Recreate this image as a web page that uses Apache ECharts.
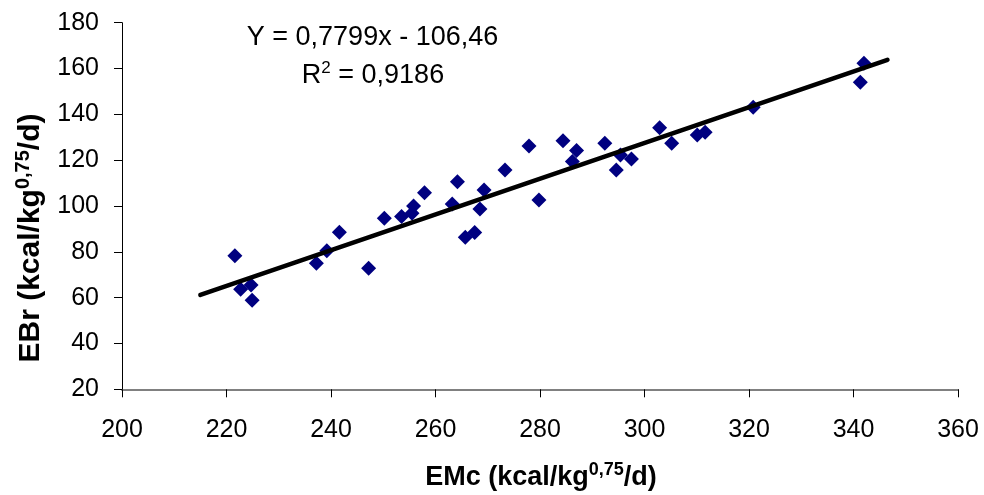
<!DOCTYPE html>
<html>
<head>
<meta charset="utf-8">
<script src="https://cdn.jsdelivr.net/npm/echarts@6/dist/echarts.min.js"></script>
<style>html,body{margin:0;padding:0;background:#fff}#c{width:984px;height:495px}</style>
</head>
<body>
<div id="c"></div>
<script>
var emcValues = [221.6, 222.7, 224.7, 224.9, 237.2, 239.2, 241.6, 247.2, 250.2, 253.5, 255.5, 255.8, 257.9, 263.2, 264.2, 265.7, 267.5, 268.5, 269.3, 273.3, 277.9, 279.8, 284.4, 287.0, 286.2, 292.4, 294.6, 295.4, 297.5, 302.9, 305.2, 310.1, 311.6, 320.8, 342.0, 341.3];
var ebrValues = [78.3, 63.7, 65.5, 58.9, 75.0, 80.5, 88.5, 72.8, 94.6, 95.4, 96.8, 100.0, 105.8, 100.9, 110.6, 86.4, 88.4, 98.7, 107.0, 115.7, 126.2, 102.6, 128.5, 124.2, 119.4, 127.4, 115.7, 122.3, 120.5, 134.2, 127.4, 131.0, 132.2, 143.1, 162.3, 154.0];
var trendX = [215, 346.5];
var trendY = [61.2, 163.8];
var xTicks = {min: 200, max: 360, interval: 20};
var yTicks = {min: 20, max: 180, interval: 20};
var equationText = 'Y = 0,7799x - 106,46';
var r2Text = '0,9186';

var FONT = "'Liberation Sans', Arial, sans-serif";
var points = emcValues.map(function (x, i) { return [x, ebrValues[i]]; });
var trend = trendX.map(function (x, i) { return [x, trendY[i]]; });

var chart = echarts.init(document.getElementById('c'), null, {renderer: 'canvas'});
chart.setOption({
  animation: false,
  backgroundColor: '#fff',
  grid: {left: 122, right: 26, top: 22.7, bottom: 105.7, containLabel: false},
  xAxis: {
    type: 'value', min: xTicks.min, max: xTicks.max, interval: xTicks.interval,
    splitLine: {show: false},
    axisLine: {show: true, onZero: false, lineStyle: {color: '#808080', width: 2}},
    axisTick: {show: true, inside: false, length: 8, lineStyle: {color: '#000', width: 1}},
    axisLabel: {color: '#000', fontFamily: FONT, fontSize: 25, margin: 28}
  },
  yAxis: {
    type: 'value', min: yTicks.min, max: yTicks.max, interval: yTicks.interval,
    splitLine: {show: false},
    axisLine: {show: true, onZero: false, lineStyle: {color: '#000', width: 1}},
    axisTick: {show: true, inside: false, length: 8, lineStyle: {color: '#000', width: 1}},
    axisLabel: {color: '#000', fontFamily: FONT, fontSize: 25, margin: 23}
  },
  series: [
    {
      type: 'scatter', data: points, symbol: 'diamond', symbolSize: 15,
      itemStyle: {color: '#000080', opacity: 1}, z: 3
    },
    {
      type: 'line', data: trend, showSymbol: false, symbol: 'none',
      lineStyle: {color: '#000', width: 4.5, cap: 'round'}, z: 4
    }
  ],
  graphic: [
    {
      type: 'text', x: 372.5, y: 38,
      style: {text: equationText, font: '27px ' + FONT, fill: '#000', textAlign: 'center', textVerticalAlign: 'middle'}
    },
    {
      type: 'text', x: 373, y: 76,
      style: {
        text: 'R{sup|2} = ' + r2Text, font: '27px ' + FONT, fill: '#000', textAlign: 'center', textVerticalAlign: 'middle',
        rich: {sup: {fontSize: 17, fontFamily: FONT, padding: [0, 0, 15, 0]}}
      }
    },
    {
      type: 'text', x: 541, y: 478,
      style: {
        text: 'EMc (kcal/kg{sup|0,75}/d)', font: 'bold 27px ' + FONT, fill: '#000', textAlign: 'center', textVerticalAlign: 'middle',
        rich: {sup: {fontSize: 18, fontWeight: 'bold', fontFamily: FONT, padding: [0, 0, 15, 0]}}
      }
    },
    {
      type: 'text', x: 31, y: 238, rotation: Math.PI / 2,
      style: {
        text: 'EBr (kcal/kg{sup|0,75}/d)', font: 'bold 30px ' + FONT, fill: '#000', textAlign: 'center', textVerticalAlign: 'middle',
        rich: {sup: {fontSize: 20, fontWeight: 'bold', fontFamily: FONT, padding: [0, 0, 16, 0]}}
      }
    }
  ]
});
</script>
</body>
</html>
